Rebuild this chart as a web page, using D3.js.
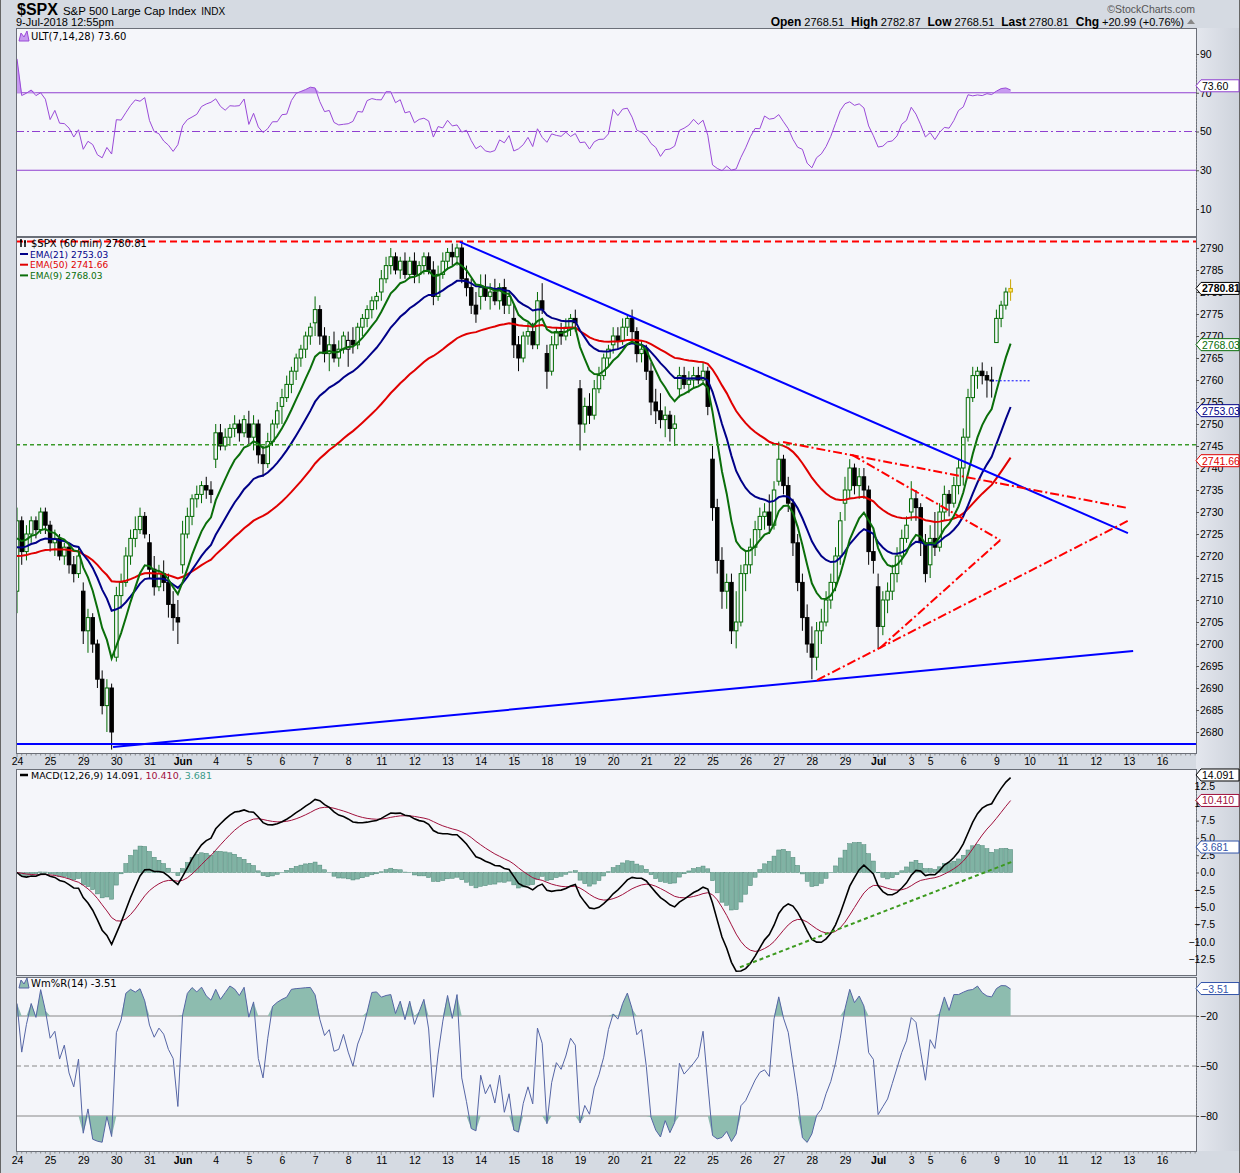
<!DOCTYPE html>
<html><head><meta charset="utf-8">
<script src="https://cdn.jsdelivr.net/npm/d3@7"></script>
<style>body{margin:0;background:#d5dae2}svg{display:block}</style>
</head><body><svg id="c" width="1240" height="1173"></svg>
<script>
// ---------------- DATA (hourly bars, May 24 – Jul 9 2018) ----------------
const opens = [2712,2728,2721,2725,2728,2726,2730, 2727,2723,2724,2720,2722,2718,2716, 2712,2703,2706,2700,2692,2686,2690,
2697,2711,2714,2720,2724,2726,2729, 2723,2717,2713,2716,2714,2709,2706, 2718,2725,2729,2733,2734,2736,2735,
2742,2748,2745,2747,2749,2750,2748, 2750,2747,2750,2743,2741,2746,2750, 2754,2756,2759,2762,2765,2767,2770,
2773,2776,2770,2766,2768,2765,2767, 2767,2769,2768,2772,2774,2776,2778, 2780,2783,2786,2788,2785,2787,2784,
2787,2784,2786,2788,2785,2779,2784, 2787,2789,2788,2790,2783,2781,2777, 2779,2781,2779,2780,2778,2781,2777,
2774,2768,2765,2770,2771,2768,2778, 2766,2762,2768,2771,2770,2772,2774, 2758,2750,2754,2752,2758,2761,2765,
2768,2770,2769,2772,2774,2771,2766, 2767,2762,2755,2753,2751,2752,2749, 2758,2761,2759,2760,2761,2760,2762,
2742,2731,2719,2712,2714,2703,2705, 2716,2718,2722,2726,2729,2730,2727, 2737,2742,2736,2732,2723,2714,2706,
2700,2697,2703,2705,2710,2714,2720, 2732,2735,2740,2736,2738,2735,2721, 2713,2704,2710,2712,2716,2720,2724,
2730,2733,2731,2723, 2718,2724,2722,2730,2734,2732,2736, 2740,2747,2756,2761,2762,2761,2760, 2768.51,2774,2777,2780];
const highs = [2731,2729,2727,2729,2729,2731,2731, 2728,2726,2725,2723,2723,2720,2722, 2714,2708,2707,2701,2694,2692,2691,
2713,2716,2722,2726,2729,2731,2730, 2725,2720,2718,2719,2716,2712,2710, 2728,2731,2734,2736,2737,2738,2737,
2750,2750,2749,2750,2752,2751,2752, 2753,2752,2751,2745,2748,2751,2755, 2758,2761,2763,2766,2768,2771,2773,
2779,2777,2772,2770,2771,2769,2771, 2771,2772,2773,2775,2777,2779,2780, 2785,2788,2790,2789,2788,2789,2788,
2789,2787,2789,2789,2787,2786,2789, 2790,2791,2791,2791,2786,2783,2780, 2784,2784,2782,2783,2782,2783,2780,
2777,2770,2771,2773,2773,2780,2782, 2768,2770,2772,2773,2774,2775,2776, 2760,2756,2757,2760,2763,2766,2768,
2772,2772,2774,2775,2776,2772,2769, 2768,2764,2758,2757,2754,2753,2752, 2763,2763,2762,2763,2763,2764,2763,
2745,2733,2722,2716,2716,2712,2718, 2721,2724,2728,2731,2732,2734,2737, 2746,2743,2738,2733,2725,2716,2709,
2704,2705,2708,2712,2716,2722,2730, 2738,2742,2741,2740,2740,2736,2726, 2716,2712,2714,2718,2722,2726,2729,
2737,2735,2732,2725, 2727,2730,2732,2736,2735,2738,2742, 2749,2758,2763,2763,2764,2762,2763, 2776,2778,2781,2782.87];
const lows = [2707,2718,2719,2723,2724,2725,2725, 2721,2720,2719,2718,2716,2714,2715, 2700,2698,2698,2690,2684,2680,2676,
2696,2708,2713,2718,2722,2725,2724, 2715,2711,2712,2712,2706,2703,2700, 2716,2724,2727,2731,2732,2733,2732,
2740,2744,2744,2745,2747,2746,2747, 2745,2744,2741,2738,2740,2745,2749, 2750,2755,2757,2760,2763,2765,2768,
2770,2768,2764,2762,2764,2763,2766, 2763,2766,2767,2770,2772,2774,2776, 2778,2782,2784,2784,2783,2783,2783,
2782,2782,2784,2784,2777,2778,2783, 2785,2786,2786,2782,2779,2775,2773, 2776,2778,2776,2777,2776,2775,2775,
2765,2762,2764,2768,2767,2767,2775, 2758,2761,2767,2768,2769,2770,2771, 2744,2748,2750,2751,2757,2760,2763,
2766,2767,2768,2770,2769,2764,2764, 2760,2752,2750,2749,2747,2746,2745, 2756,2758,2757,2758,2759,2759,2752,
2728,2716,2708,2708,2700,2699,2704, 2712,2716,2720,2724,2726,2725,2726, 2736,2734,2730,2720,2712,2703,2698,
2692,2694,2700,2704,2708,2712,2718, 2728,2733,2734,2733,2733,2718,2716, 2699,2702,2707,2710,2714,2718,2723,
2728,2728,2720,2714, 2715,2720,2721,2728,2729,2731,2734, 2736,2746,2755,2758,2759,2756,2756, 2768.51,2772,2776,2778];
const closes = [2728,2721,2725,2728,2726,2730,2727, 2723,2724,2720,2722,2718,2716,2720, 2703,2706,2700,2692,2686,2690,2680,
2711,2714,2720,2724,2726,2729,2725, 2717,2713,2716,2714,2709,2706,2705, 2725,2729,2733,2734,2736,2735,2734,
2748,2745,2747,2749,2750,2748,2751, 2747,2750,2743,2741,2746,2750,2753, 2756,2759,2762,2765,2767,2770,2772,
2776,2770,2766,2768,2765,2767,2770, 2769,2768,2772,2774,2776,2778,2779, 2783,2786,2788,2785,2787,2784,2787,
2784,2786,2788,2785,2779,2784,2787, 2789,2788,2790,2783,2781,2777,2775, 2781,2779,2780,2778,2781,2777,2779,
2768,2765,2770,2771,2768,2778,2776, 2762,2768,2771,2770,2772,2774,2773, 2750,2754,2752,2758,2761,2765,2767,
2770,2769,2772,2774,2771,2766,2767, 2762,2755,2753,2751,2752,2749,2750, 2761,2759,2760,2761,2760,2762,2754,
2731,2719,2712,2714,2703,2705,2716, 2718,2722,2726,2729,2730,2727,2735, 2742,2736,2732,2723,2714,2706,2700,
2697,2703,2705,2710,2714,2720,2728, 2735,2740,2736,2738,2735,2721,2719, 2704,2710,2712,2716,2720,2724,2727,
2733,2731,2723,2716, 2724,2722,2730,2734,2732,2736,2740, 2747,2756,2761,2762,2761,2760,2759.82, 2774,2777,2780,2780.81];

const dayLabels = ["24","25","29","30","31","Jun","4","5","6","7","8","11","12","13","14","15","18","19","20","21","22",
  "25","26","27","28","29","Jul","3","5","6","9","10","11","12","13","16"];
const dayBars = [7,7,7,7,7,7,7,7,7,7,7,7,7,7,7,7,7,7,7,7,7,7,7,7,7,7,7,4,7,7,7,7,7,7,7,7];
const boldLabels = ["Jun","Jul"];

const priceTicks = [2680,2685,2690,2695,2700,2705,2710,2715,2720,2725,2730,2735,2740,2745,2750,2755,2760,2765,2770,2775,2780,2785,2790];
const ultTicks = [10,30,50,70,90];
const macdTicks = [-12.5,-10,-7.5,-5,-2.5,0,2.5,5,7.5,10,12.5];
const wrTicks = [-20,-50,-80];

const emaSeeds = {e9:2724, e21:2722, e50:2720};

// legend / last values as shown
const lastPrice = 2780.81, ema9Last = 2768.03, ema21Last = 2753.03, ema50Last = 2741.66;
const ultLast = 73.60;
const macdLast = [14.091, 10.410, 3.681];
const wrLast = -3.51;

// drawn annotations: [bar, price]
const blueDown = [[93.6,2791.4],[234.8,2725.2]];
const blueUp = [[20.3,2676.6],[235.9,2698.4]];
const blueFlat = 2677.3;
const redTop = 2791.5;
const greenMid = 2745.3;
const redDashDot = [
  [[161.9,2745.9],[234.8,2730.9]],
  [[176.5,2743.0],[207.8,2723.6]],
  [[182.4,2699.1],[207.8,2723.6]],
  [[169.1,2691.8],[234.8,2728.0]]
];
const prevClose = [[206,2759.82],[214,2759.82]];
const macdTrend = [[152.8,-13.7],[210.5,1.6]];

// ---------------- INDICATORS ----------------
const N = closes.length;
function ema(arr, n, seed){const k=2/(n+1);let p=seed;return arr.map((v,i)=>{p=i===0?seed:v*k+p*(1-k);return p;});}
const ema9 = ema(closes,9,emaSeeds.e9), ema21 = ema(closes,21,emaSeeds.e21), ema50 = ema(closes,50,emaSeeds.e50);
const e12 = ema(closes,12,closes[0]), e26 = ema(closes,26,closes[0]);
const macd = e12.map((v,i)=>v-e26[i]);
const signal = ema(macd,9,macd[0]);
const hist = macd.map((v,i)=>v-signal[i]);
const bp=[],tr=[];
for(let i=0;i<N;i++){const pc=i?closes[i-1]:lows[i];const lo=Math.min(lows[i],pc),hi=Math.max(highs[i],i?closes[i-1]:highs[i]);bp.push(closes[i]-lo);tr.push(hi-lo);}
function ratio(i,n){let b=0,t=0;for(let j=Math.max(0,i-n+1);j<=i;j++){b+=bp[j];t+=tr[j];}return t?b/t:0.5;}
const ult = closes.map((c,i)=>100*(4*ratio(i,7)+2*ratio(i,14)+ratio(i,28))/7);
const wr = closes.map((c,i)=>{const s=Math.max(0,i-13);const hh=d3.max(highs.slice(s,i+1)),ll=d3.min(lows.slice(s,i+1));return hh===ll?-50:-100*(hh-c)/(hh-ll);});

// ---------------- LAYOUT ----------------
const svg = d3.select("#c");
const L=16, R=1196, BG="#d5dae2", PBG="#f5f6fa";
const P = {ult:[28,236], price:[237,753], macd:[769,975], wr:[977,1151]};
const xs = d3.scaleLinear().domain([0,242]).range([17,1162]);
const yU = d3.scaleLinear().domain([10,90]).range([209,54]);
const yP = d3.scaleLinear().domain([2680,2790]).range([732,248]);
const yM = d3.scaleLinear().domain([-12.5,12.5]).range([959,786]);
const yW = d3.scaleLinear().domain([-80,-20]).range([1116,1016]);
const FONT = "'Liberation Sans',Arial,sans-serif", LFONT="'DejaVu Sans',Verdana,sans-serif";

svg.append("rect").attr("width",1240).attr("height",1173).attr("fill",BG);
const defs = svg.append("defs");
const grad = defs.append("linearGradient").attr("id","rg").attr("x1",0).attr("x2",1);
grad.append("stop").attr("offset",0).attr("stop-color","#e4e7ee");
grad.append("stop").attr("offset",1).attr("stop-color","#cdd2db");
svg.append("rect").attr("x",R).attr("y",28).attr("width",44).attr("height",1123).attr("fill","url(#rg)");
svg.append("line").attr("x1",0.5).attr("x2",0.5).attr("y1",0).attr("y2",1173).attr("stroke","#666");
svg.append("line").attr("x1",1239.5).attr("x2",1239.5).attr("y1",0).attr("y2",1173).attr("stroke","#666");

Object.entries(P).forEach(([k,[t,b]])=>{
  svg.append("rect").attr("x",L+0.5).attr("y",t+0.5).attr("width",R-L).attr("height",b-t).attr("fill",PBG).attr("stroke","#6b6f78");
  defs.append("clipPath").attr("id","cl-"+k).append("rect").attr("x",L+1).attr("y",t+1).attr("width",R-L-1).attr("height",b-t-1);
});
const gU = svg.append("g").attr("clip-path","url(#cl-ult)");
const gP = svg.append("g").attr("clip-path","url(#cl-price)");
const gM = svg.append("g").attr("clip-path","url(#cl-macd)");
const gW = svg.append("g").attr("clip-path","url(#cl-wr)");
const idx = d3.range(N);

// ---------------- HEADER ----------------
const hd = svg.append("g").attr("font-family",FONT);
const t1 = hd.append("text").attr("x",17).attr("y",15);
t1.append("tspan").attr("font-weight","bold").attr("font-size",16).text("$SPX");
t1.append("tspan").attr("font-size",11.5).attr("dx",5).text("S&P 500 Large Cap Index");
t1.append("tspan").attr("font-size",10).attr("dx",5).text("INDX");
hd.append("text").attr("x",16).attr("y",26).attr("font-size",11).text("9-Jul-2018 12:55pm");
hd.append("text").attr("x",1195).attr("y",13).attr("text-anchor","end").attr("font-size",10.5).attr("fill","#555").text("\u00A9StockCharts.com");
const t2 = hd.append("text").attr("x",1184).attr("y",26).attr("text-anchor","end").attr("font-size",11);
[["Open","2768.51"],["High","2782.87"],["Low","2768.51"],["Last","2780.81"],["Chg","+20.99 (+0.76%)"]].forEach(([a,b],i)=>{
  t2.append("tspan").attr("font-weight","bold").attr("font-size",12).attr("dx",i?7:0).text(a);
  t2.append("tspan").attr("dx",3).text(b);
});
hd.append("path").attr("d","M1187,24 l4,-5 l4,5 z").attr("fill","#888");

// ---------------- ULT PANEL ----------------
[[70,null],[30,null],[50,"8,3,2,3"]].forEach(([v,da])=>{
  gU.append("line").attr("x1",L).attr("x2",R).attr("y1",yU(v)).attr("y2",yU(v)).attr("stroke","#9040d0").attr("stroke-width",1).attr("stroke-dasharray",da);
});
gU.append("path").datum(idx).attr("fill","#c79af0").attr("d",d3.area().x(i=>xs(i)).y0(yU(70)).y1(i=>yU(Math.max(70,ult[i]))));
gU.append("path").datum(idx).attr("fill","none").attr("stroke","#9a4ad8").attr("stroke-width",1).attr("d",d3.line().x(i=>xs(i)).y(i=>yU(ult[i])));
const ulg = svg.append("g");
ulg.append("path").attr("d","M19,41 L21,33 L24,37 L27,31 L29,41 Z").attr("fill","#c79af0").attr("stroke","#9a4ad8");
ulg.append("text").attr("x",31).attr("y",40).attr("font-family",LFONT).attr("font-size",10).text("ULT(7,14,28) 73.60");

// ---------------- PRICE PANEL ----------------
const green="#006a00";
idx.forEach(i=>{
  const o=opens[i],c=closes[i],h=highs[i],l=lows[i];
  const pc=i?closes[i-1]:o;
  let col = c>=pc?green:"#000";
  const last = i===N-1;
  if(last) col="#c9a400";
  const x=xs(i);
  gP.append("line").attr("x1",x).attr("x2",x).attr("y1",yP(h)).attr("y2",yP(l)).attr("stroke",col).attr("stroke-width",1);
  const top=yP(Math.max(o,c)), hgt=Math.max(1,Math.abs(yP(o)-yP(c)));
  gP.append("rect").attr("x",x-1.75).attr("y",top).attr("width",3.5).attr("height",hgt)
    .attr("fill", last?"#ffe866":(c>o?PBG:col)).attr("stroke",col).attr("stroke-width",1);
});
const eLine = arr=>d3.line().x(i=>xs(i)).y(i=>yP(arr[i]));
gP.append("path").datum(idx).attr("fill","none").attr("stroke","#e00000").attr("stroke-width",2).attr("d",eLine(ema50));
gP.append("path").datum(idx).attr("fill","none").attr("stroke","#000088").attr("stroke-width",2).attr("d",eLine(ema21));
gP.append("path").datum(idx).attr("fill","none").attr("stroke","#0a6e0a").attr("stroke-width",2).attr("d",eLine(ema9));
gP.append("line").attr("x1",L).attr("x2",R).attr("y1",yP(redTop)).attr("y2",yP(redTop)).attr("stroke","#ff0000").attr("stroke-width",2).attr("stroke-dasharray","7,4");
gP.append("line").attr("x1",L).attr("x2",R).attr("y1",yP(greenMid)).attr("y2",yP(greenMid)).attr("stroke","#3a9a2a").attr("stroke-width",1.5).attr("stroke-dasharray","4,3");
gP.append("line").attr("x1",L).attr("x2",R).attr("y1",yP(blueFlat)).attr("y2",yP(blueFlat)).attr("stroke","#0000ff").attr("stroke-width",2);
const seg = (g,pts,ys,col,w,da)=>g.append("line").attr("x1",xs(pts[0][0])).attr("y1",ys(pts[0][1])).attr("x2",xs(pts[1][0])).attr("y2",ys(pts[1][1])).attr("stroke",col).attr("stroke-width",w).attr("stroke-dasharray",da);
seg(gP,blueDown,yP,"#0000ff",2,null);
seg(gP,blueUp,yP,"#0000ff",2,null);
redDashDot.forEach(p=>seg(gP,p,yP,"#ff0000",2,"9,3,2,3"));
seg(gP,prevClose,yP,"#0000ff",1,"2,2");

const plg = svg.append("g").attr("font-family",LFONT);
plg.append("path").attr("d","M21,239 v8 M25,240 v7 M20,241 h2 M24,242 h2").attr("stroke","#000").attr("stroke-width",1.5);
plg.append("text").attr("x",31).attr("y",247).attr("font-size",10).text("$SPX (60 min) 2780.81");
[["EMA(21) 2753.03","#000088"],["EMA(50) 2741.66","#e00000"],["EMA(9) 2768.03","#0a6e0a"]].forEach(([t,c],k)=>{
  const y=254+k*10.7;
  plg.append("line").attr("x1",20).attr("x2",28).attr("y1",y).attr("y2",y).attr("stroke",c).attr("stroke-width",2);
  plg.append("text").attr("x",30).attr("y",y+3.5).attr("font-size",9).attr("fill",c).text(t);
});

// ---------------- MACD PANEL ----------------
gM.selectAll("rect.h").data(idx).join("rect").attr("x",i=>xs(i)-2).attr("width",4)
  .attr("y",i=>Math.min(yM(0),yM(hist[i]))).attr("height",i=>Math.abs(yM(hist[i])-yM(0)))
  .attr("fill","#80b3a4").attr("stroke","#4a8574").attr("stroke-width",0.5);
gM.append("path").datum(idx).attr("fill","none").attr("stroke","#a0103c").attr("stroke-width",1).attr("d",d3.line().x(i=>xs(i)).y(i=>yM(signal[i])));
gM.append("path").datum(idx).attr("fill","none").attr("stroke","#000").attr("stroke-width",1.6).attr("d",d3.line().x(i=>xs(i)).y(i=>yM(macd[i])));
seg(gM,macdTrend,yM,"#3c9a1e",2,"4,3");
const mlg = svg.append("g").attr("font-family",LFONT).attr("font-size",9.5);
mlg.append("line").attr("x1",20).attr("x2",28).attr("y1",775).attr("y2",775).attr("stroke","#000").attr("stroke-width",2.5);
const mt = mlg.append("text").attr("x",31).attr("y",779);
mt.append("tspan").text("MACD(12,26,9) 14.091");
mt.append("tspan").attr("fill","#a0103c").text(", 10.410");
mt.append("tspan").attr("fill","#3a9a88").text(", 3.681");

// ---------------- WM%R PANEL ----------------
[[-20,null],[-50,"5,3"],[-80,null]].forEach(([v,da])=>{
  gW.append("line").attr("x1",L).attr("x2",R).attr("y1",yW(v)).attr("y2",yW(v)).attr("stroke","#888").attr("stroke-width",1).attr("stroke-dasharray",da);
});
gW.append("path").datum(idx).attr("fill","#8dbcaf").attr("d",d3.area().x(i=>xs(i)).y0(yW(-20)).y1(i=>yW(Math.max(-20,wr[i]))));
gW.append("path").datum(idx).attr("fill","#8dbcaf").attr("d",d3.area().x(i=>xs(i)).y0(yW(-80)).y1(i=>yW(Math.min(-80,wr[i]))));
gW.append("path").datum(idx).attr("fill","none").attr("stroke","#5565a5").attr("stroke-width",1).attr("d",d3.line().x(i=>xs(i)).y(i=>yW(wr[i])));
const wlg = svg.append("g");
wlg.append("path").attr("d","M19,988 L21,980 L24,984 L27,978 L29,988 Z").attr("fill","#8dbcaf").attr("stroke","#5565a5");
wlg.append("text").attr("x",31).attr("y",987).attr("font-family",LFONT).attr("font-size",10).text("Wm%R(14) -3.51");

// ---------------- RIGHT AXES ----------------
function rAxis(scale,ticks,fmt,anchorEnd){
  const g = svg.append("g").attr("transform",`translate(${R},0)`)
    .call(d3.axisRight(scale).tickValues(ticks).tickFormat(fmt).tickSize(3).tickPadding(1));
  g.select(".domain").attr("stroke","#888").attr("stroke-dasharray","1,2");
  g.selectAll("text").attr("font-family",FONT).attr("font-size",10.5).attr("fill","#000");
  g.selectAll("line").attr("stroke","#555");
  if(anchorEnd) g.selectAll("text").attr("text-anchor","end").attr("x",19);
  return g;
}
rAxis(yU,ultTicks,d3.format("d"));
rAxis(yP,priceTicks,d3.format("d"));
rAxis(yM,macdTicks,d3.format(".1f"),true);
rAxis(yW,wrTicks,d3.format("d"));

function tag(y,txt,col,tcol,bold){
  const g=svg.append("g");
  g.append("path").attr("d",`M${R},${y} L${R+5},${y-6} L1239,${y-6} L1239,${y+6} L${R+5},${y+6} Z`).attr("fill","#fff").attr("stroke",col);
  g.append("text").attr("x",R+6).attr("y",y+4).attr("font-family",FONT).attr("font-size",10.5).attr("font-weight",bold?"bold":null).attr("fill",tcol).text(txt);
}
tag(yU(ultLast),d3.format(".2f")(ultLast),"#9040d0","#000");
tag(yP(lastPrice),d3.format(".2f")(lastPrice),"#000","#000",true);
tag(yP(ema9Last),d3.format(".2f")(ema9Last),"#0a6e0a","#0a6e0a");
tag(yP(ema21Last),d3.format(".2f")(ema21Last),"#000088","#000088");
tag(yP(ema50Last),d3.format(".2f")(ema50Last),"#e00000","#e00000");
tag(yM(macdLast[0]),d3.format(".3f")(macdLast[0]),"#000","#000");
tag(yM(macdLast[1]),d3.format(".3f")(macdLast[1]),"#a0103c","#a0103c");
tag(yM(macdLast[2]),d3.format(".3f")(macdLast[2]),"#3355aa","#3355aa");
tag(yW(wrLast),d3.format(".2f")(wrLast),"#3355aa","#3355aa");

// ---------------- DATE AXES ----------------
const dayStart = dayBars.reduce((a,n,k)=>{a.push(k?a[k-1]+dayBars[k-1]:0);return a;},[]);
function dAxis(y,pad){
  const g = svg.append("g").attr("transform",`translate(0,${y})`)
    .call(d3.axisBottom(xs).tickValues(dayStart).tickFormat((d,k)=>dayLabels[k]).tickSize(0).tickPadding(pad));
  g.select(".domain").remove();
  g.selectAll("text").attr("font-family",FONT).attr("font-size",10.5).attr("fill","#000")
    .attr("font-weight",(d,k)=>boldLabels.includes(dayLabels[k])?"bold":null);
  g.selectAll("line.tk").data(d3.range(0,250)).join("line").attr("class","tk")
    .attr("x1",i=>xs(i)).attr("x2",i=>xs(i)).attr("y1",0).attr("y2",i=>dayStart.includes(i)?3:1.5).attr("stroke","#777").attr("stroke-width",0.8);
}
dAxis(P.price[1]+1,4);
dAxis(P.wr[1]+1,5);
</script></body></html>
